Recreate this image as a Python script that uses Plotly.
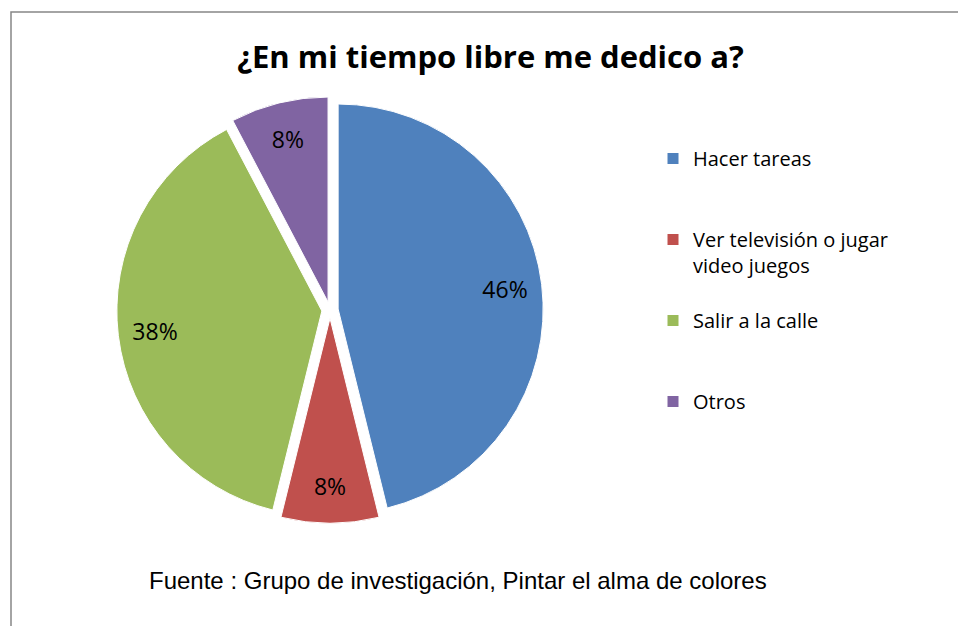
import plotly.graph_objects as go

title_text = "¿En mi tiempo libre me dedico a?"
categories = ["Hacer tareas", "Ver televisión o jugar video juegos", "Salir a la calle", "Otros"]
legend_lines = [["Hacer tareas"], ["Ver televisión o jugar", "video juegos"], ["Salir a la calle"], ["Otros"]]
values = [6, 1, 5, 1]
colors = ["#4F81BD", "#C0504D", "#9BBB59", "#8064A2"]
source_text = "Fuente : Grupo de investigación, Pintar el alma de colores"

W, H = 958, 626
LINES_PER_ITEM = 3
legend_labels = ["<br>".join(l + ["\u00a0"] * (LINES_PER_ITEM - len(l))) for l in legend_lines]

dom_x = [116.8 / W, 543.2 / W]
dom_y = [1 - 523.2 / H, 1 - 96.8 / H]
pull = 0.04

fig = go.Figure()
fig.add_trace(go.Pie(
    labels=legend_labels, values=values, sort=False, direction="clockwise", rotation=0,
    pull=pull, marker=dict(colors=colors, line=dict(color="white", width=1)),
    textinfo="none", domain=dict(x=dom_x, y=dom_y), hoverinfo="label+percent",
))
fig.add_trace(go.Pie(
    labels=legend_labels, values=values, sort=False, direction="clockwise", rotation=0,
    pull=pull, hole=0.64, showlegend=False,
    marker=dict(colors=["rgba(0,0,0,0)"] * 4, line=dict(width=0)),
    texttemplate="%{percent:.0%}", textposition="inside", insidetextorientation="horizontal",
    textfont=dict(family="Open Sans, sans-serif", size=23, color="black"),
    domain=dict(x=dom_x, y=dom_y), hoverinfo="skip",
))

fig.update_layout(
    width=W, height=H,
    margin=dict(l=0, r=0, t=0, b=0),
    paper_bgcolor="white", plot_bgcolor="white",
    title=dict(text="<b>" + title_text + "</b>", x=490.5 / W, xanchor="center",
               y=1 - 57 / H, yanchor="middle",
               font=dict(family="Open Sans, sans-serif", size=31, color="black")),
    legend=dict(x=653 / W, xanchor="left", y=1 - 139 / H, yanchor="top", valign="top",
                font=dict(family="Open Sans, sans-serif", size=20, color="black"),
                bgcolor="rgba(0,0,0,0)"),
    shapes=[dict(type="rect", xref="paper", yref="paper",
                 x0=11 / W, x1=1.05, y0=-0.05, y1=1 - 12 / H,
                 line=dict(color="#868686", width=1.5), fillcolor="rgba(0,0,0,0)")],
    annotations=[dict(text=source_text, xref="paper", yref="paper",
                      x=457.5 / W, y=1 - 580 / H, xanchor="center", yanchor="middle",
                      showarrow=False,
                      font=dict(family="Arial, Liberation Sans, sans-serif", size=24, color="black"))],
)

fig.write_html("out.html", config={"displayModeBar": False},
               post_script="document.body.style.margin='0';")
